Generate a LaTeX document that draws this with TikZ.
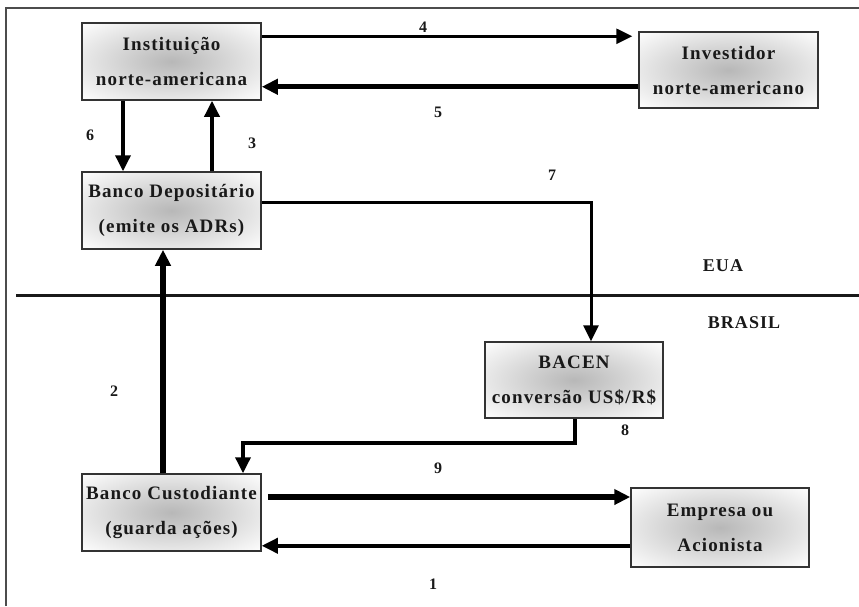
\documentclass[tikz,border=0pt]{standalone}
\usepackage{fontspec}
\setmainfont{Liberation Serif}[LetterSpace=6]
\usetikzlibrary{arrows.meta}
\definecolor{shc}{gray}{0.72}
\definecolor{shm}{gray}{0.78}
\pgfdeclareradialshading{boxshade}{\pgfpoint{0bp}{0bp}}{color(0bp)=(shc); color(8bp)=(shm); color(36bp)=(white); color(50bp)=(white)}
\tikzset{
  boxnode/.style={draw=black!80, line width=1.5pt, shade, shading=boxshade,
    minimum width=179pt, minimum height=77pt, inner sep=0pt, align=center,
    font=\fontsize{19}{35}\selectfont\bfseries, text=black!90},
  numlabel/.style={font=\fontsize{16}{16}\selectfont\bfseries, text=black!90, inner sep=0pt},
  regionlabel/.style={font=\fontsize{18}{18}\selectfont\bfseries, text=black!90, inner sep=0pt},
  arr/.style={draw=black, -{Triangle[length=16pt,width=15pt]}},
}
\begin{document}
\begin{tikzpicture}[x=1pt,y=-1pt]
\useasboundingbox (0,0) rectangle (859,606);
% outer frame
\draw[black!70, line width=2pt] (6,606) -- (6,8) -- (859,8);
% divider
\draw[black!90, line width=3pt] (16,295) -- (859,295);
% boxes
\node[boxnode] (inst) at (171.5,61.5) {Instituição\\norte-americana};
\node[boxnode] (dep) at (171.5,210.5) {Banco Depositário\\(emite os ADRs)};
\node[boxnode, minimum height=76pt] (inv) at (728.5,70) {Investidor\\norte-americano};
\node[boxnode, minimum width=178pt, minimum height=76pt] (bacen) at (574,380) {BACEN\\conversão US\$/R\$};
\node[boxnode] (cust) at (171.5,512.5) {Banco Custodiante\\(guarda ações)};
\node[boxnode, minimum width=178pt, minimum height=79pt] (emp) at (720,527.5) {Empresa ou\\Acionista};
% region labels
\node[regionlabel] (eua) at (723,266) {EUA};
\node[regionlabel] (brasil) at (744,323) {BRASIL};
% connectors
\draw[arr, line width=2.6pt, shorten >=6pt] ([yshift=-14pt]inst.north east) -- ([yshift=-14pt]inst.north east -| inv.west);
\draw[arr, line width=4.6pt] ([yshift=14pt]inst.south east -| inv.west) -- ([yshift=14pt]inst.south east);
\draw[arr, line width=3.5pt] ([xshift=-48.5pt]inst.south) -- ([xshift=-48.5pt]dep.north);
\draw[arr, line width=3.5pt] ([xshift=40.5pt]dep.north) -- ([xshift=40.5pt]inst.south);
\draw[arr, line width=3pt] ([yshift=8.5pt]dep.east) -| ([xshift=17pt]bacen.north);
\draw[arr, line width=5.5pt] ([xshift=-8.5pt]cust.north) -- ([xshift=-8.5pt]dep.south);
\draw[arr, line width=3.5pt] ([xshift=1pt]bacen.south) -- ++(0,24) -| ([xshift=71.5pt]cust.north);
\draw[arr, line width=5.5pt, shorten <=6pt] ([yshift=15.5pt]cust.east) -- ([yshift=15.5pt]cust.east -| emp.west);
\draw[arr, line width=3.5pt] ([yshift=6pt]cust.south east -| emp.west) -- ([yshift=6pt]cust.south east);
% number labels
\node[numlabel] (n4) at (423,27) {4};
\node[numlabel] (n5) at (438,112) {5};
\node[numlabel] (n6) at (90,135) {6};
\node[numlabel] (n3) at (252,143) {3};
\node[numlabel] (n7) at (552,175) {7};
\node[numlabel] (n2) at (114,391) {2};
\node[numlabel] (n8) at (625,430) {8};
\node[numlabel] (n9) at (438,468) {9};
\node[numlabel] (n1) at (433,584) {1};
\end{tikzpicture}
\end{document}
